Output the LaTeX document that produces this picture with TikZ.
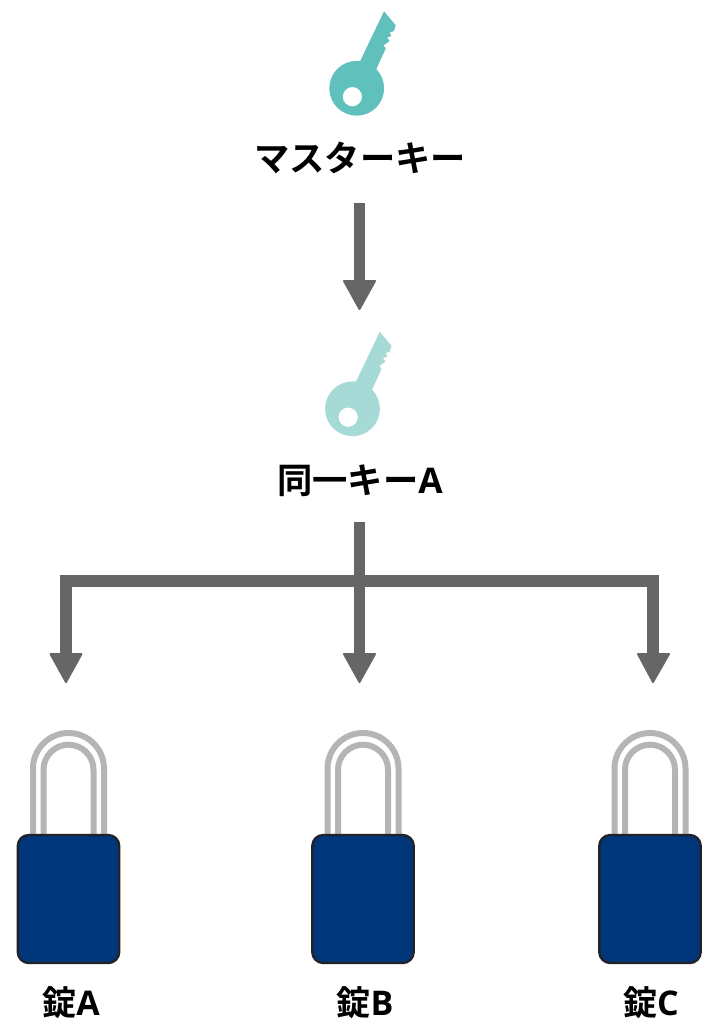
\documentclass[tikz,border=0pt]{standalone}
\usepackage{fontspec}
\newfontfamily\cjk{Noto Sans CJK JP Bold}
\newfontfamily\lat{Open Sans Bold}
\definecolor{keyA}{HTML}{60C1BC}
\definecolor{keyB}{HTML}{A6DAD6}
\definecolor{arrowgray}{HTML}{666666}
\definecolor{shackle}{HTML}{B5B5B5}
\definecolor{lockblue}{HTML}{00377A}
\definecolor{lockedge}{HTML}{22222A}
\tikzset{
  lbl/.style={font=\cjk\fontsize{35.3}{36}\selectfont,text=black,inner sep=0pt,anchor=center},
  lbls/.style={font=\cjk\fontsize{34}{34}\selectfont,text=black,inner sep=0pt,anchor=center},
  shaft/.style={line width=11.5pt,draw=arrowgray},
  tip/.style={fill=arrowgray,draw=arrowgray,line width=2pt,line join=round},
  shk/.style={draw=shackle,line width=6pt},
  body/.style={fill=lockblue,draw=lockedge,line width=2.4pt,rounded corners=11pt},
}
\newcommand{\keyshape}[3]{% x y colour
  \begin{scope}[shift={(#1,#2)}]
  \fill[#3] (3,-26.3) -- (27.3,-77) -- (39,-63) -- (37.3,-57.3) -- (33,-55.7) -- (34.7,-52.3) -- (30.3,-50.7) -- (33,-47.3) -- (27,-43) -- (29,-39.7) -- (19,-18) -- cycle;
  \path[fill=#3,even odd rule] (0,0) circle[radius=27.4] (-4.3,8.4) circle[radius=9.7];
  \end{scope}}
\newcommand{\lockshape}[1]{% x
  \begin{scope}[shift={(#1,0)}]
  \draw[shk] (-35.5,836) -- (-35.5,768.5) arc[start angle=180,end angle=360,radius=35.5] -- (35.5,836);
  \draw[shk] (-25,836) -- (-25,769.7) arc[start angle=180,end angle=360,radius=25] -- (25,836);
  \draw[body] (-50.7,835) rectangle (50.7,963);
  \end{scope}}
\begin{document}
\begin{tikzpicture}[x=1pt,y=-1pt]
\useasboundingbox (0,0) rectangle (719,1024);
\fill[white] (0,0) rectangle (719,1024);
\keyshape{356.7}{88.3}{keyA}
\keyshape{352.5}{408.8}{keyB}
\node[lbl] (master) at (360,158) {マスターキー};
\node[lbl] (same) at (360,481) {同一キー{\lat A}};
\coordinate (s1) at (359.5,203);
\coordinate (t1) at (359.5,282);
\draw[shaft] (s1) -- (t1);
\path[tip] (344,281) -- (375,281) -- (359.5,309) -- cycle;
\coordinate (s2) at (359.5,522);
\coordinate (j) at (359.5,581);
\coordinate (la) at (66,581);
\coordinate (lc) at (653,581);
\draw[shaft] (s2) -- (359.5,655);
\draw[shaft] (66,655) -- (la) -- (lc) -- (653,655);
\path[tip] (50.5,654) -- (81.5,654) -- (66,682) -- cycle;
\path[tip] (344,654) -- (375,654) -- (359.5,682) -- cycle;
\path[tip] (638,654) -- (669,654) -- (653,682) -- cycle;
\lockshape{68.5}
\lockshape{363}
\lockshape{650}
\node[lbls] (la1) at (71,1003) {錠{\lat A}};
\node[lbls] (lb1) at (365,1003) {錠{\lat B}};
\node[lbls] (lc1) at (651,1003) {錠{\lat C}};
\end{tikzpicture}
\end{document}
